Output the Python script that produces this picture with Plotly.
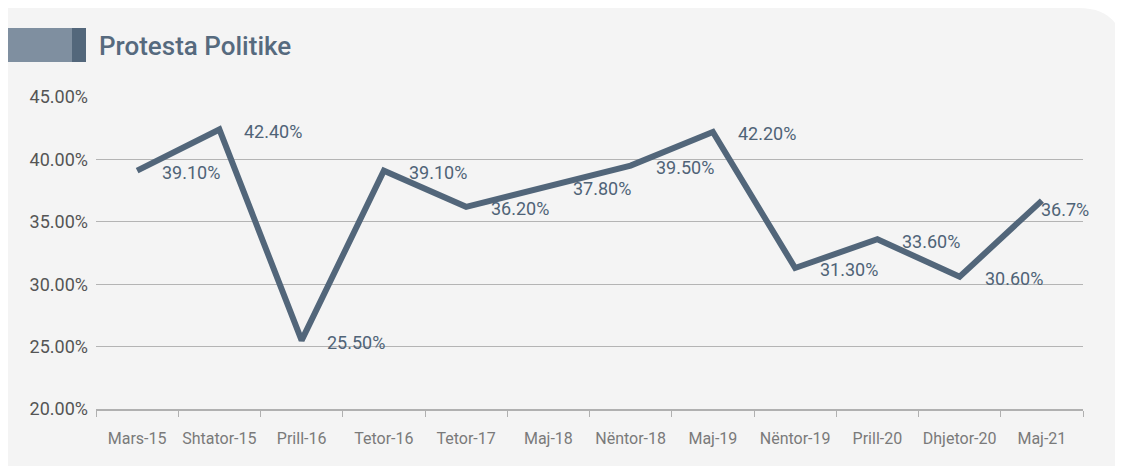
import plotly.graph_objects as go

categories = ["Mars-15", "Shtator-15", "Prill-16", "Tetor-16", "Tetor-17", "Maj-18",
              "Nëntor-18", "Maj-19", "Nëntor-19", "Prill-20", "Dhjetor-20", "Maj-21"]
values = [39.10, 42.40, 25.50, 39.10, 36.20, 37.80, 39.50, 42.20, 31.30, 33.60, 30.60, 36.7]
label_texts = ["39.10%", "42.40%", "25.50%", "39.10%", "36.20%", "37.80%",
               "39.50%", "42.20%", "31.30%", "33.60%", "30.60%", "36.7%"]
y_ticks = [20, 25, 30, 35, 40, 45]
y_tick_labels = ["20.00%", "25.00%", "30.00%", "35.00%", "40.00%", "45.00%"]
title_text = "Protesta Politike"

# figure is placed by the page at (8, 8)
OFF = 8
W, H = 1115, 458
L, R, T, B = 88, 40, 89, 57
pw, ph = W - L - R, H - T - B

def px(x):
    # screen x -> paper
    return (x - OFF - L) / pw

def py(y):
    # screen y -> paper
    return (H - B - (y - OFF)) / ph

LINE = "#52667a"
FONT = "Roboto"

fig = go.Figure()
fig.add_trace(go.Scatter(
    x=categories, y=values, mode="lines",
    line=dict(color=LINE, width=6), hoverinfo="skip", showlegend=False,
))

annotations = []
n = len(categories)
for i, (c, v, t) in enumerate(zip(categories, values, label_texts)):
    last = i == n - 1
    annotations.append(dict(
        x=c, y=v, xref="x", yref="y", text=t, showarrow=False,
        xanchor="left", yanchor="middle",
        xshift=-3 if last else 23, yshift=-9 if last else -2,
        font=dict(family=FONT, size=18, color="#4f6377"),
    ))

annotations.append(dict(
    x=px(97), y=py(46), xref="paper", yref="paper", text=title_text,
    showarrow=False, xanchor="left", yanchor="middle",
    font=dict(family=FONT, size=26, color="#566a7e", weight=500),
))

# panel with rounded top-right corner
x0, x1 = px(OFF), px(OFF + W)
y0, y1 = py(OFF + H), py(OFF)
dx, dy = 45 / pw, 45 / ph
panel_path = (f"M {x0},{y0} L {x0},{y1} L {x1 - dx},{y1} "
              f"Q {x1},{y1} {x1},{y1 - dy} L {x1},{y0} Z")

shapes = [
    dict(type="path", xref="paper", yref="paper", path=panel_path,
         fillcolor="#f4f4f4", line=dict(width=0), layer="below"),
    dict(type="rect", xref="paper", yref="paper", x0=px(7), x1=px(72), y0=py(62), y1=py(28),
         fillcolor="#7f8fa0", line=dict(width=0), layer="below"),
    dict(type="rect", xref="paper", yref="paper", x0=px(72), x1=px(86), y0=py(62), y1=py(28),
         fillcolor="#53677b", line=dict(width=0), layer="below"),
]

fig.update_layout(
    width=W, height=H,
    margin=dict(l=L, r=R, t=T, b=B, pad=0, autoexpand=False),
    paper_bgcolor="white", plot_bgcolor="rgba(0,0,0,0)",
    annotations=annotations, shapes=shapes, showlegend=False,
    xaxis=dict(
        type="category", range=[-0.5, n - 0.5], tickangle=0, automargin=False,
        showgrid=False, showline=True, linecolor="#b0b0b0", linewidth=1.5,
        ticks="outside", tickson="boundaries", ticklen=6, tickcolor="#b0b0b0", tickwidth=1.2,
        tickfont=dict(family=FONT, size=16, color="#7a7a7a"), ticklabelstandoff=14,
        fixedrange=True,
    ),
    yaxis=dict(
        range=[20, 45], tickvals=y_ticks, ticktext=y_tick_labels, automargin=False,
        showgrid=True, gridcolor="#b4b4b4", gridwidth=1.3, zeroline=False,
        showline=False, ticks="",
        tickfont=dict(family=FONT, size=18, color="#555555"), ticklabelstandoff=7,
        fixedrange=True,
    ),
)

fig.write_html("out.html")
